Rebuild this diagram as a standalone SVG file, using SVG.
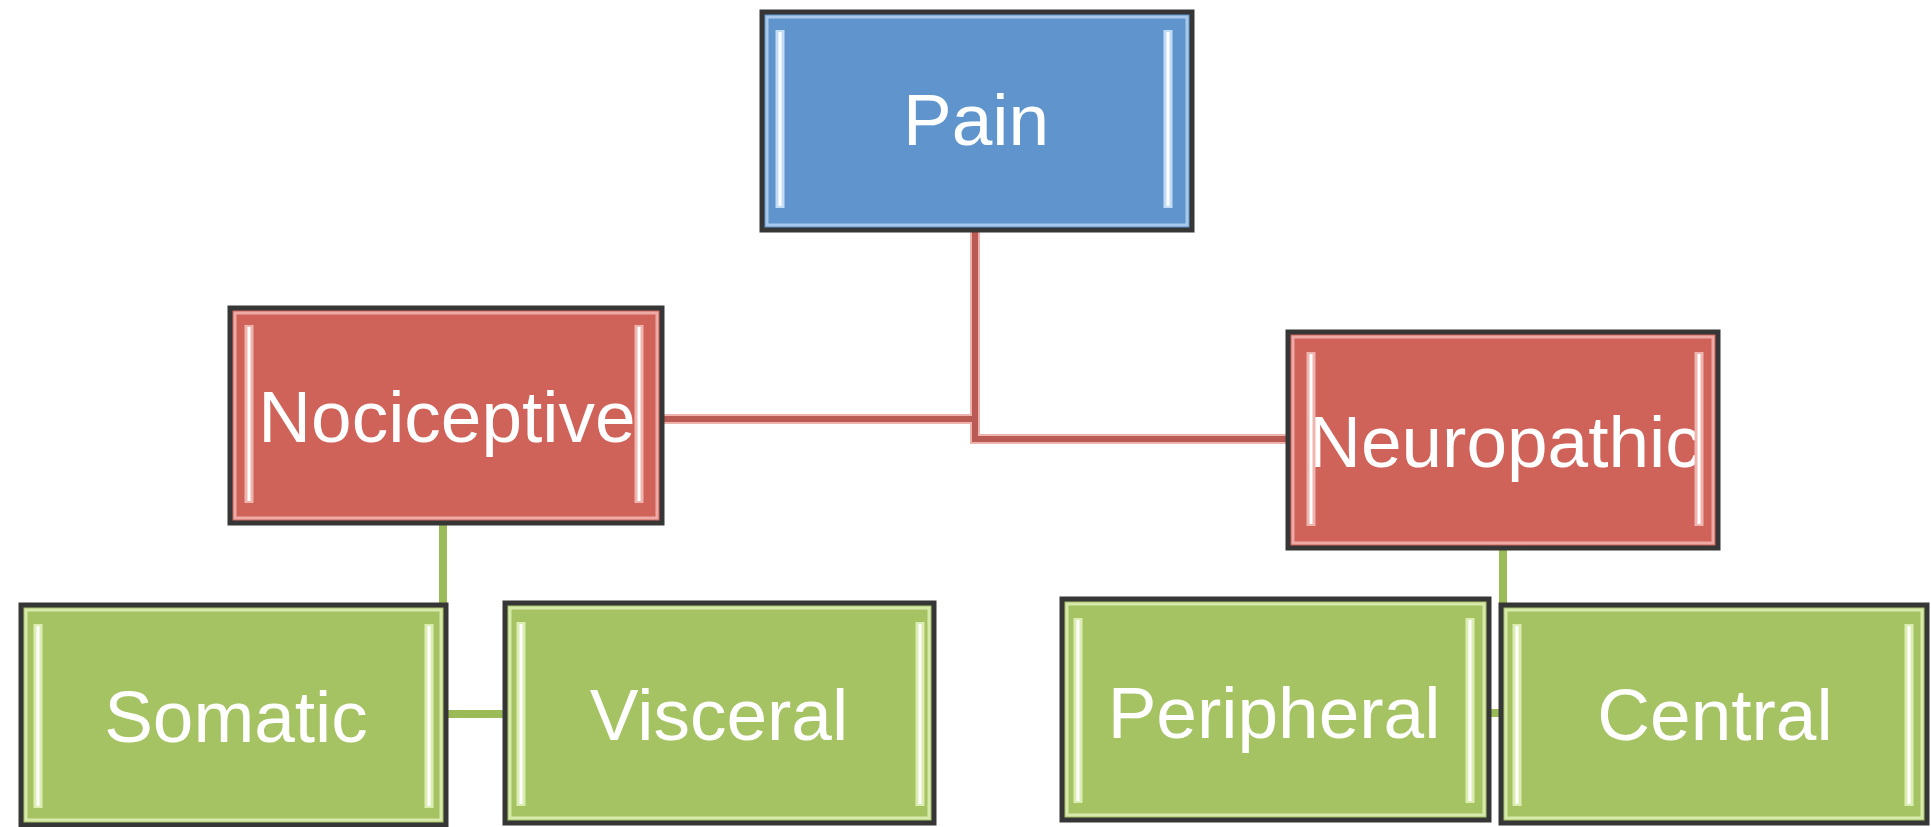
<svg xmlns="http://www.w3.org/2000/svg" width="1931" height="827" viewBox="0 0 1931 827">
<style>
.outer{stroke:#363636;stroke-width:5}
.blue{fill:#5f95cc}
.red{fill:#cf635a}
.green{fill:#a6c364}
.inb{fill:none;stroke:#a9c8ec;stroke-width:3}
.inr{fill:none;stroke:#eeaaa5;stroke-width:3}
.ing{fill:none;stroke:#d8e9ac;stroke-width:3}
.barb{stroke:#c2dcf6;stroke-width:9}
.barr{stroke:#f0b4ae;stroke-width:9}
.barg{stroke:#dcedb2;stroke-width:9}
.core{stroke:#ffffff;stroke-width:3}
.lbl{font-family:"Liberation Sans",Arial,sans-serif;font-size:73px;fill:#ffffff;text-anchor:middle}
.halo{fill:none;stroke:#efb3ad;stroke-width:10}
.lr{fill:none;stroke:#b95a55;stroke-width:6}
.lg{fill:none;stroke:#9bbb59;stroke-width:8}
</style>
<rect width="1931" height="827" fill="#ffffff"/>
<g id="connectors">
<path class="halo" d="M975 230 V419 H660"/>
<path class="halo" d="M975 419 V439 H1290"/>
<path class="lr" d="M975 230 V419 H660"/>
<path class="lr" d="M975 419 V439 H1290"/>
<path class="lg" d="M443 523 V714 H505"/>
<path class="lg" d="M1503 548 V713 H1489"/>
</g>
<g id="pain">
<rect class="outer blue" x="762" y="12" width="430" height="218"/>
<rect class="inb" x="767" y="17" width="420" height="208"/>
<line class="barb" x1="780" y1="30" x2="780" y2="208"/>
<line class="core" x1="780" y1="32" x2="780" y2="206"/>
<line class="barb" x1="1168" y1="30" x2="1168" y2="208"/>
<line class="core" x1="1168" y1="32" x2="1168" y2="206"/>
<text class="lbl" x="976" y="145">Pain</text>
</g>
<g id="nociceptive">
<rect class="outer red" x="230" y="308" width="432" height="215"/>
<rect class="inr" x="235" y="313" width="422" height="205"/>
<line class="barr" x1="249" y1="325" x2="249" y2="503"/>
<line class="core" x1="249" y1="327" x2="249" y2="501"/>
<line class="barr" x1="639" y1="325" x2="639" y2="503"/>
<line class="core" x1="639" y1="327" x2="639" y2="501"/>
<text class="lbl" x="447" y="442">Nociceptive</text>
</g>
<g id="neuropathic">
<rect class="outer red" x="1288" y="332" width="430" height="216"/>
<rect class="inr" x="1293" y="337" width="420" height="206"/>
<text class="lbl" x="1505" y="467">Neuropathic</text>
<line class="barr" x1="1311" y1="352" x2="1311" y2="526"/>
<line class="core" x1="1311" y1="354" x2="1311" y2="524"/>
<line class="barr" x1="1699" y1="352" x2="1699" y2="526"/>
<line class="core" x1="1699" y1="354" x2="1699" y2="524"/>
</g>
<g id="somatic">
<rect class="outer green" x="21" y="605" width="425" height="220"/>
<rect class="ing" x="26" y="610" width="415" height="210"/>
<line class="barg" x1="38" y1="624" x2="38" y2="808"/>
<line class="core" x1="38" y1="626" x2="38" y2="806"/>
<line class="barg" x1="429" y1="624" x2="429" y2="808"/>
<line class="core" x1="429" y1="626" x2="429" y2="806"/>
<text class="lbl" x="236" y="742">Somatic</text>
</g>
<g id="visceral">
<rect class="outer green" x="505" y="603" width="429" height="220"/>
<rect class="ing" x="510" y="608" width="419" height="210"/>
<line class="barg" x1="521" y1="622" x2="521" y2="806"/>
<line class="core" x1="521" y1="624" x2="521" y2="804"/>
<line class="barg" x1="920" y1="622" x2="920" y2="806"/>
<line class="core" x1="920" y1="624" x2="920" y2="804"/>
<text class="lbl" x="719" y="740">Visceral</text>
</g>
<g id="peripheral">
<rect class="outer green" x="1062" y="599" width="427" height="221"/>
<rect class="ing" x="1067" y="604" width="417" height="211"/>
<line class="barg" x1="1078" y1="618" x2="1078" y2="803"/>
<line class="core" x1="1078" y1="620" x2="1078" y2="801"/>
<line class="barg" x1="1470" y1="618" x2="1470" y2="803"/>
<line class="core" x1="1470" y1="620" x2="1470" y2="801"/>
<text class="lbl" x="1274" y="738">Peripheral</text>
</g>
<g id="central">
<rect class="outer green" x="1501" y="605" width="426" height="218"/>
<rect class="ing" x="1506" y="610" width="416" height="208"/>
<line class="barg" x1="1517" y1="624" x2="1517" y2="806"/>
<line class="core" x1="1517" y1="626" x2="1517" y2="804"/>
<line class="barg" x1="1909" y1="624" x2="1909" y2="806"/>
<line class="core" x1="1909" y1="626" x2="1909" y2="804"/>
<text class="lbl" x="1715" y="740">Central</text>
</g>
</svg>
